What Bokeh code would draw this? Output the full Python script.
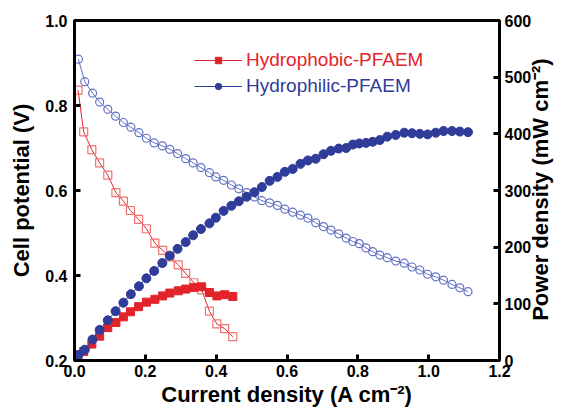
import math
from bokeh.plotting import figure
from bokeh.models import (Range1d, LinearAxis, Legend, LegendItem, FixedTicker,
                          NumeralTickFormatter)
from bokeh.embed import file_html
from bokeh.resources import INLINE

# Hydrophobic-PFAEM
phob_j = [0.010, 0.026, 0.049, 0.071, 0.094, 0.117, 0.138, 0.158, 0.181, 0.203, 0.227,
          0.249, 0.269, 0.293, 0.314, 0.337, 0.359, 0.381, 0.402, 0.424, 0.447]
phob_v = [0.836, 0.738, 0.696, 0.665, 0.636, 0.595, 0.575, 0.553, 0.532, 0.510, 0.476,
          0.459, 0.444, 0.425, 0.405, 0.383, 0.366, 0.316, 0.286, 0.275, 0.256]
phob_p = [8, 16, 29, 43, 58, 67, 77, 86, 95, 103, 108, 114, 119, 123, 126, 129, 130,
          120, 114, 116, 113]

# Hydrophilic-PFAEM
phil_j = [0.011, 0.029, 0.051, 0.071, 0.094, 0.116, 0.138, 0.159, 0.182, 0.203,
          0.225, 0.248, 0.269, 0.291, 0.314, 0.335, 0.357, 0.381, 0.399, 0.421,
          0.443, 0.464, 0.486, 0.508, 0.529, 0.551, 0.573, 0.594, 0.616, 0.638,
          0.659, 0.681, 0.703, 0.724, 0.746, 0.767, 0.786, 0.804, 0.823, 0.842,
          0.862, 0.883, 0.907, 0.931, 0.953, 0.975, 0.997, 1.020, 1.042, 1.066,
          1.088, 1.111]
phil_v = [0.909, 0.856, 0.829, 0.808, 0.791, 0.775, 0.760, 0.749, 0.736, 0.723,
          0.712, 0.705, 0.697, 0.687, 0.675, 0.665, 0.654, 0.642, 0.632, 0.624,
          0.613, 0.604, 0.595, 0.585, 0.576, 0.571, 0.565, 0.556, 0.549, 0.542,
          0.535, 0.524, 0.515, 0.507, 0.498, 0.488, 0.480, 0.475, 0.465, 0.456,
          0.448, 0.442, 0.434, 0.429, 0.420, 0.413, 0.403, 0.397, 0.389, 0.379,
          0.371, 0.362]
phil_p = [10, 19, 37, 54, 71, 87, 102, 117, 131, 145,
          158, 172, 185, 197, 209, 221, 232, 242, 252, 264,
          273, 281, 289, 297, 306, 317, 324, 333, 338, 347,
          353, 356, 364, 370, 374, 375, 381, 383, 384, 386,
          389, 395, 398, 402, 401, 400, 399, 402, 405, 405,
          404, 403]

x_ticks = [0.0, 0.2, 0.4, 0.6, 0.8, 1.0, 1.2]
v_ticks = [0.2, 0.4, 0.6, 0.8, 1.0]
p_ticks = [0, 100, 200, 300, 400, 500, 600]
right_title = "Power density (mW cm\u207b\u00b2)"

RED = "#E3232A"
RED_LIGHT = "#F07272"
BLUE = "#2F3C99"
BLUE_LIGHT = "#6271C4"
FONT = "Liberation Sans"

p = figure(width=569, height=413, x_range=Range1d(0, 1.2), y_range=Range1d(0.2, 1.0),
           output_backend="svg", toolbar_location=None,
           min_border_left=74, min_border_right=70, min_border_top=20, min_border_bottom=53)
p.extra_y_ranges = {"power": Range1d(0, 600)}
p.grid.visible = False
p.outline_line_color = "black"
p.outline_line_width = 3
p.outline_line_alpha = 1
p.background_fill_color = "white"

p.xaxis.axis_label = "Current density (A cm\u207b\u00b2)"
p.yaxis.axis_label = "Cell potential (V)"
right = LinearAxis(y_range_name="power")
p.add_layout(right, "right")

p.xaxis.ticker = FixedTicker(ticks=x_ticks)
p.xaxis.formatter = NumeralTickFormatter(format="0.0")
p.yaxis[0].ticker = FixedTicker(ticks=v_ticks)
p.yaxis[0].formatter = NumeralTickFormatter(format="0.0")
right.ticker = FixedTicker(ticks=p_ticks)
right.formatter = NumeralTickFormatter(format="0")

for ax in [p.xaxis[0], p.yaxis[0], right]:
    ax.axis_line_width = 3
    ax.major_tick_line_width = 3
    ax.major_tick_in = 6
    ax.major_tick_out = 0
    ax.minor_tick_in = 0
    ax.minor_tick_out = 0
    ax.major_label_text_font = FONT
    ax.major_label_text_font_style = "bold"
    ax.major_label_text_font_size = "16px"
    ax.major_label_text_color = "black"
    ax.axis_label_text_font = FONT
    ax.axis_label_text_font_style = "bold"
    ax.axis_label_text_font_size = "22px"
    ax.axis_label_text_color = "black"
    ax.major_label_standoff = 7
    ax.axis_label_standoff = 8

p.xaxis[0].major_label_standoff = 4
p.xaxis[0].axis_label_standoff = 2
right.major_label_standoff = 5

# right-hand title, reading bottom to top: drawn as the single label of a bare axis
title_axis = LinearAxis(y_range_name="power", ticker=FixedTicker(ticks=[70]),
                        major_label_overrides={70: right_title},
                        major_label_orientation=math.pi / 2)
title_axis.axis_line_alpha = 0
title_axis.major_tick_in = 0
title_axis.major_tick_out = 0
title_axis.minor_tick_in = 0
title_axis.minor_tick_out = 0
title_axis.major_label_text_font = FONT
title_axis.major_label_text_font_style = "bold"
title_axis.major_label_text_font_size = "22px"
title_axis.major_label_text_color = "black"
title_axis.major_label_standoff = 6
p.add_layout(title_axis, "right")

# polarization curves (open symbols)
p.line(phob_j, phob_v, line_color=RED, line_width=1)
p.scatter(phob_j, phob_v, marker="square", size=8, fill_color="white", fill_alpha=0,
          line_color=RED_LIGHT, line_width=1.2)
p.line(phil_j, phil_v, line_color=BLUE_LIGHT, line_width=1)
p.scatter(phil_j, phil_v, marker="circle", size=8, fill_color="white", fill_alpha=0,
          line_color=BLUE_LIGHT, line_width=1.2)

# power density curves (filled symbols)
l1 = p.line(phob_j, phob_p, y_range_name="power", line_color=RED, line_width=1)
s1 = p.scatter(phob_j, phob_p, y_range_name="power", marker="square", size=8,
               fill_color=RED, line_color=RED)
l2 = p.line(phil_j, phil_p, y_range_name="power", line_color=BLUE, line_width=1)
s2 = p.scatter(phil_j, phil_p, y_range_name="power", marker="circle", size=9,
               fill_color=BLUE, line_color=BLUE)

def make_legend(label, rends, color, loc):
    leg = Legend(items=[LegendItem(label=label, renderers=rends)], location=loc)
    leg.background_fill_alpha = 0
    leg.border_line_alpha = 0
    leg.padding = 0
    leg.margin = 0
    leg.spacing = 0
    leg.glyph_width = 48
    leg.glyph_height = 16
    leg.label_height = 16
    leg.label_standoff = 4
    leg.label_text_font = FONT
    leg.label_text_font_size = "19px"
    leg.label_text_color = color
    return leg

p.add_layout(make_legend("Hydrophobic-PFAEM", [l1, s1], RED, (120, 289)))
p.add_layout(make_legend("Hydrophilic-PFAEM", [l2, s2], BLUE, (120, 263)))

open("out.html", "w").write(file_html(p, INLINE))
